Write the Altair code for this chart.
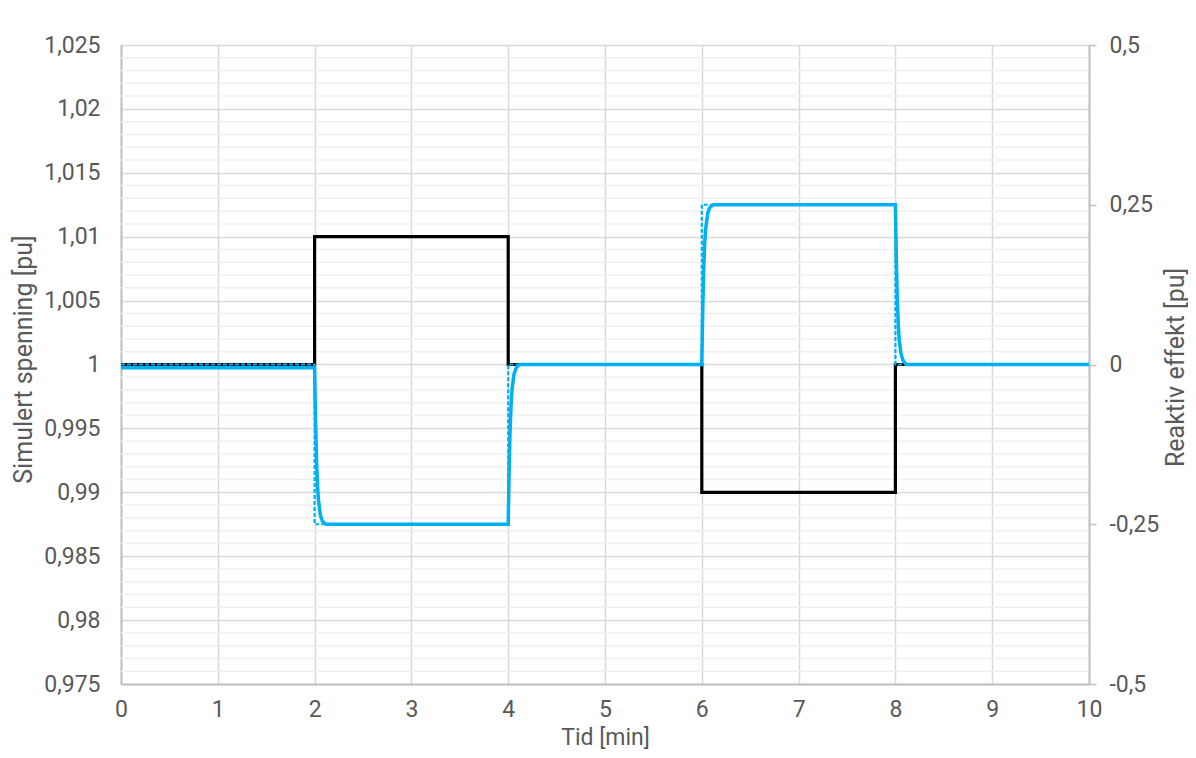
import altair as alt
import pandas as pd

# Voltage (left axis) - step changes
v_t = [0, 2, 4, 6, 8, 10]
v_val = [1.0, 1.01, 1.0, 0.99, 1.0, 1.0]

# Reactive power setpoint (right axis, dashed)
qs_t = [0, 2, 4, 6, 8, 10]
qs_val = [0.0, -0.25, 0.0, 0.25, 0.0, 0.0]

# Reactive power response (right axis, solid)
q_t = [0, 2.0,
       2.01, 2.02, 2.03, 2.04, 2.06, 2.08, 2.10, 2.12,
       4.0, 4.01, 4.02, 4.03, 4.04, 4.06, 4.08, 4.10, 4.12,
       6.0, 6.01, 6.02, 6.03, 6.04, 6.06, 6.08, 6.10, 6.12,
       8.0, 8.01, 8.02, 8.03, 8.04, 8.06, 8.08, 8.10, 8.12,
       10.0]
q_val = [-0.005, -0.005,
         -0.09, -0.15, -0.19, -0.212, -0.236, -0.245, -0.248, -0.25,
         -0.25, -0.162, -0.10, -0.062, -0.038, -0.015, -0.006, -0.002, 0.0,
         0.0, 0.088, 0.15, 0.19, 0.212, 0.236, 0.245, 0.248, 0.25,
         0.25, 0.162, 0.10, 0.062, 0.038, 0.015, 0.006, 0.002, 0.0,
         0.0]

left_major = [0.975, 0.98, 0.985, 0.99, 0.995, 1.0, 1.005, 1.01, 1.015, 1.02, 1.025]
right_major = [-0.5, -0.25, 0, 0.25, 0.5]
x_ticks = list(range(0, 11))
minor_grid = [i / 1000 for i in range(976, 1025) if i % 5 != 0]

FONT = "Roboto"
LBL = "#595959"
GRID = "#d9d9d9"
MINOR = "#f0f0f0"
DOMAIN = "#bfbfbf"
BLUE = "#00B0F0"
LFS = 23
TFS = 25

df_v = pd.DataFrame({"t": v_t, "v": v_val})
df_qs = pd.DataFrame({"t": qs_t, "q": qs_val})
df_q = pd.DataFrame({"t": q_t, "q": q_val})
df_minor = pd.DataFrame({"g": minor_grid})

xscale = alt.Scale(domain=[0, 10], nice=False, zero=False)
lscale = alt.Scale(domain=[0.975, 1.025], nice=False, zero=False)
rscale = alt.Scale(domain=[-0.5, 0.5], nice=False, zero=False)

xaxis = alt.Axis(values=x_ticks, grid=True, gridColor=GRID, gridWidth=1.5,
                 ticks=False, tickSize=0, domainColor=DOMAIN, domainWidth=2,
                 labelFont=FONT, labelFontSize=LFS, labelColor=LBL, labelPadding=14,
                 labelFlush=False,
                 title="Tid [min]", titleFont=FONT, titleFontSize=23,
                 titleFontWeight="normal", titleColor=LBL,
                 titleX=484, titleY=53, titleBaseline="middle", titleAlign="center")

laxis = alt.Axis(values=left_major, orient="left", grid=True, gridColor=GRID, gridWidth=1.5,
                 ticks=False, tickSize=0, domainColor=DOMAIN, domainWidth=2,
                 labelFont=FONT, labelFontSize=LFS, labelColor=LBL, labelPadding=21,
                 labelExpr="replace(format(datum.value, '.3~f'), '.', ',')",
                 title="Simulert spenning [pu]", titleFont=FONT, titleFontSize=TFS,
                 titleFontWeight="normal", titleColor=LBL,
                 titleX=-98, titleY=314, titleAngle=270,
                 titleBaseline="middle", titleAlign="center")

raxis = alt.Axis(values=right_major, orient="right", grid=False,
                 ticks=True, tickSize=7, tickColor=DOMAIN, tickWidth=1.5,
                 domainColor=DOMAIN, domainWidth=2,
                 labelFont=FONT, labelFontSize=LFS, labelColor=LBL, labelPadding=13,
                 labelExpr="replace(replace(format(datum.value, '.2~f'), '.', ','), '−', '-')",
                 title="Reaktiv effekt [pu]", titleFont=FONT, titleFontSize=TFS,
                 titleFontWeight="normal", titleColor=LBL,
                 titleX=86, titleY=322, titleAngle=270,
                 titleBaseline="middle", titleAlign="center")

minor = alt.Chart(df_minor).mark_rule(color=MINOR, strokeWidth=1.5).encode(
    y=alt.Y("g:Q", scale=lscale, axis=laxis)
)

volt = alt.Chart(df_v).mark_line(color="black", strokeWidth=3.2, interpolate="step-after").encode(
    x=alt.X("t:Q", scale=xscale, axis=xaxis),
    y=alt.Y("v:Q", scale=lscale, axis=laxis),
)

left = alt.layer(minor, volt)

qset = alt.Chart(df_qs).mark_line(color=BLUE, strokeWidth=2.2, strokeDash=[4, 2],
                                  interpolate="step-after").encode(
    x=alt.X("t:Q", scale=xscale, axis=xaxis),
    y=alt.Y("q:Q", scale=rscale, axis=raxis),
)

qresp = alt.Chart(df_q).mark_line(color=BLUE, strokeWidth=3.5).encode(
    x=alt.X("t:Q", scale=xscale, axis=xaxis),
    y=alt.Y("q:Q", scale=rscale, axis=raxis),
)

right = alt.layer(qset, qresp)

chart = alt.layer(left, right).resolve_scale(y="independent").resolve_axis(y="independent").properties(
    width=968, height=639,
    padding={"left": 113, "top": 37, "right": 99, "bottom": 65},
    autosize=alt.AutoSizeParams(type="none"),
).configure_view(stroke=None).configure(background="white")

chart.save("out.html", embed_options={"renderer": "svg", "actions": False})
